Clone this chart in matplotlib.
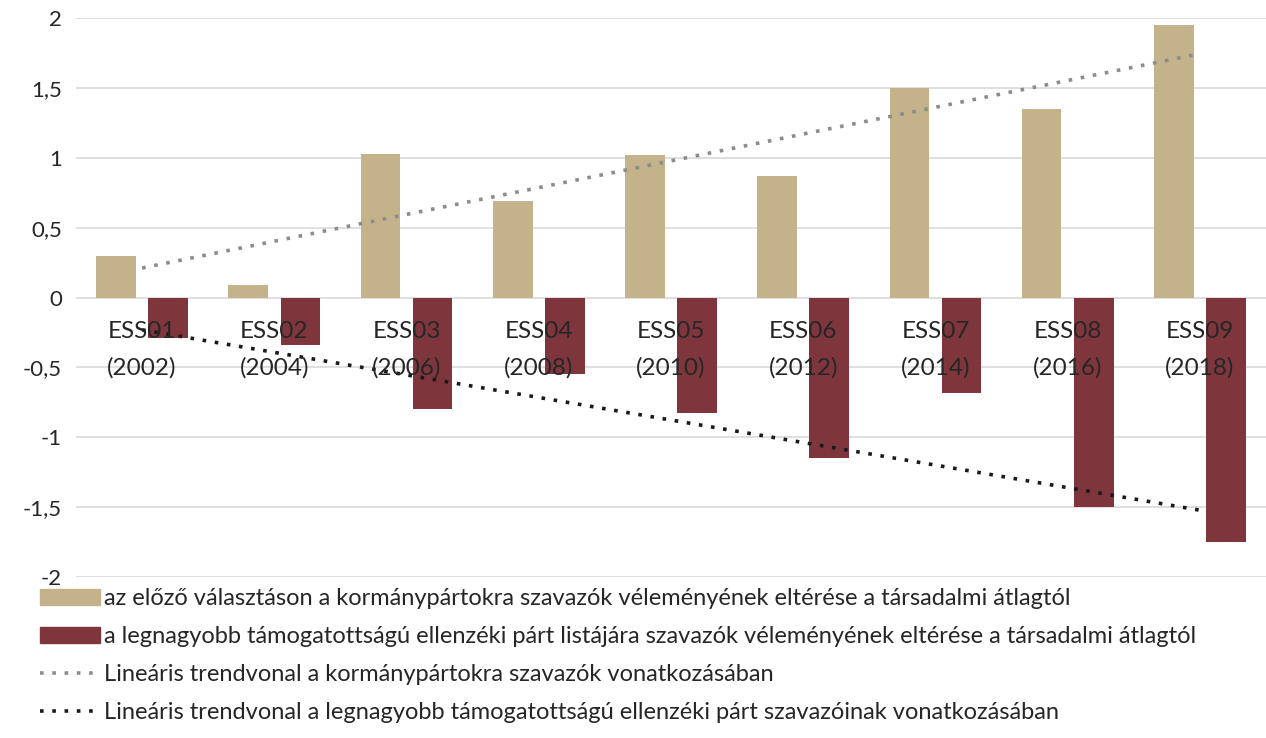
import numpy as np
import matplotlib.pyplot as plt
from matplotlib.patches import Patch
from matplotlib.lines import Line2D

plt.rcParams['font.family'] = ['Lato', 'DejaVu Sans']

# data
waves = ["ESS01", "ESS02", "ESS03", "ESS04", "ESS05", "ESS06", "ESS07", "ESS08", "ESS09"]
years = ["2002", "2004", "2006", "2008", "2010", "2012", "2014", "2016", "2018"]
gov = [0.30, 0.09, 1.03, 0.69, 1.02, 0.87, 1.50, 1.35, 1.95]
opp = [-0.29, -0.34, -0.80, -0.55, -0.83, -1.15, -0.68, -1.50, -1.75]

leg_labels = [
    "az előző választáson a kormánypártokra szavazók véleményének eltérése a társadalmi átlagtól",
    "a legnagyobb támogatottságú ellenzéki párt listájára szavazók véleményének eltérése a társadalmi átlagtól",
    "Lineáris trendvonal a kormánypártokra szavazók vonatkozásában",
    "Lineáris trendvonal a legnagyobb támogatottságú ellenzéki párt szavazóinak vonatkozásában",
]

tan = "#C4B38A"
wine = "#7E353B"

fig = plt.figure(figsize=(12.66, 7.38), dpi=100)
ax = fig.add_axes([76/1266, 1 - 577/738, 1190/1266, 559/738])

x = np.arange(len(waves))
w = 0.30
off = 0.197
ax.bar(x - off, gov, w, color=tan, zorder=2)
ax.bar(x + off, opp, w, color=wine, zorder=2)

# linear trendlines
k1, b1 = np.polyfit(x, gov, 1)
k2, b2 = np.polyfit(x, opp, 1)
dots = (0, (1, 2.4))
ax.plot(x, k1 * x + b1, ls=dots, lw=2.6, color="#8C8C8C", zorder=3)
ax.plot(x, k2 * x + b2, ls=dots, lw=2.6, color="#1A1A1A", zorder=3)

ax.set_xlim(-0.5, 8.5)
ax.set_ylim(-2, 2)
yt = [2, 1.5, 1, 0.5, 0, -0.5, -1, -1.5, -2]
ax.set_yticks(yt)
ax.set_yticklabels([("%g" % v).replace(".", ",") for v in yt], fontsize=16, color="#262626")
ax.set_xticks([])
ax.tick_params(axis="y", length=0, pad=10)
ax.grid(axis="y", color="#D9D9D9", lw=1.2, zorder=0)
for s in ax.spines.values():
    s.set_visible(False)

for xi, wv, yr in zip(x, waves, years):
    ax.text(xi, -0.17, wv + "\n(" + yr + ")", ha="center", va="top", fontsize=17.5,
            color="#262626", linespacing=1.85, zorder=4)

handles = [
    Patch(color=tan),
    Patch(color=wine),
    Line2D([], [], ls=dots, lw=2.6, color="#8C8C8C"),
    Line2D([], [], ls=dots, lw=2.6, color="#1A1A1A"),
]
fig.legend(handles, leg_labels, loc="upper left", bbox_to_anchor=(40/1266, 1 - 588/738),
           frameon=False, fontsize=17, handlelength=2.55, handleheight=0.65,
           handletextpad=0.15, labelspacing=0.72, borderpad=0, borderaxespad=0,
           labelcolor="#262626")

fig.savefig("out.png", dpi=100)
